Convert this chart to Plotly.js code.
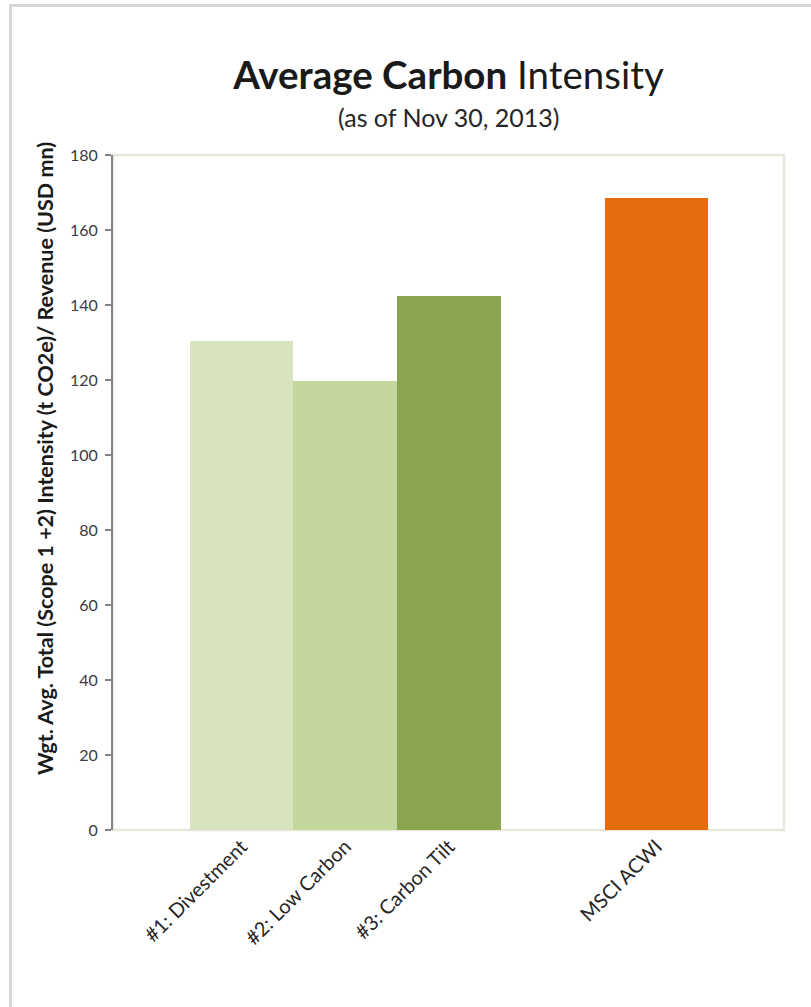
<!DOCTYPE html>
<html>
<head>
<meta charset="utf-8">
<script src="https://cdn.plot.ly/plotly-3.0.1.min.js"></script>
<style>
  html, body { margin: 0; padding: 0; background: #ffffff; }
  #wrap { position: relative; width: 811px; height: 1007px; overflow: hidden; }
  #chart { position: absolute; left: 0; top: 0; width: 811px; height: 1007px; }
  #frame { position: absolute; left: 9px; top: 4px; width: 900px; height: 1100px;
           border-left: 3px solid #d6d6d6; border-top: 3px solid #d6d6d6; pointer-events: none; }
</style>
</head>
<body>
<div id="wrap">
  <div id="chart"></div>
  <div id="frame"></div>
</div>
<script>
// Data
const categories = ["#1: Divestment", "#2: Low Carbon", "#3: Carbon Tilt", " ", "MSCI ACWI"];
const intensity  = [130.4, 119.7, 142.4, null, 168.5];
const barColors  = ["#D7E4BD", "#C3D69B", "#8AA550", "#ffffff", "#E46C0A"];
const yTicks     = [0, 20, 40, 60, 80, 100, 120, 140, 160, 180];

const titleText    = "<b>Average Carbon</b> Intensity";
const subtitleText = "(as of Nov 30, 2013)";
const yTitleText   = "Wgt. Avg. Total (Scope 1 +2) Intensity (t CO2e)/ Revenue (USD mn)";

const trace = {
  type: "bar",
  x: categories,
  y: intensity,
  width: 1.0,
  marker: { color: barColors, line: { width: 0 } },
  hoverinfo: "x+y"
};

const layout = {
  width: 811,
  height: 1007,
  margin: { l: 113, r: 27, t: 155, b: 177 },
  paper_bgcolor: "#ffffff",
  plot_bgcolor: "#ffffff",
  showlegend: false,
  bargap: 0,
  font: { family: "Lato, 'Open Sans', sans-serif", color: "#262626" },
  title: {
    text: titleText,
    font: { family: "Lato, 'Open Sans', sans-serif", size: 38.5, color: "#1a1a1a" },
    x: 0.5, xref: "paper",
    y: 1 - 76 / 1007, yref: "container", yanchor: "middle"
  },
  xaxis: {
    type: "category",
    categoryorder: "array",
    categoryarray: categories,
    range: [-1.239, 5.229],
    showgrid: false,
    zeroline: false,
    showline: false,
    ticks: "",
    tickangle: -45,
    tickfont: { family: "Lato, 'Open Sans', sans-serif", size: 20, color: "#262626" },
    fixedrange: true
  },
  yaxis: {
    range: [0, 180],
    tickvals: yTicks,
    ticktext: yTicks.map(String),
    showgrid: false,
    zeroline: false,
    showline: true,
    linecolor: "#858585",
    linewidth: 2,
    ticks: "outside",
    ticklen: 6,
    tickwidth: 1.5,
    tickcolor: "#858585",
    ticklabelstandoff: 4,
    tickfont: { family: "Lato, 'Open Sans', sans-serif", size: 16, color: "#3a3a48" },
    fixedrange: true
  },
  shapes: [
    { type: "rect", xref: "paper", yref: "paper", x0: 0, x1: 1, y0: 0, y1: 1,
      line: { color: "#e9e7db", width: 2.5 }, layer: "below" }
  ],
  annotations: [
    { text: subtitleText, xref: "paper", yref: "paper", x: 0.5, y: 1 + (155 - 117) / 675,
      xanchor: "center", yanchor: "middle", showarrow: false,
      font: { family: "Lato, 'Open Sans', sans-serif", size: 25, color: "#262626" } },
    { text: "<b>" + yTitleText + "</b>", xref: "paper", yref: "paper",
      x: (45 - 113) / 671, y: (830 - 459) / 675, textangle: -90,
      xanchor: "center", yanchor: "middle", showarrow: false,
      font: { family: "Lato, 'Open Sans', sans-serif", size: 21.5, color: "#1a1a1a" } }
  ]
};

Plotly.newPlot("chart", [trace], layout, { displayModeBar: false, staticPlot: true });
</script>
</body>
</html>
